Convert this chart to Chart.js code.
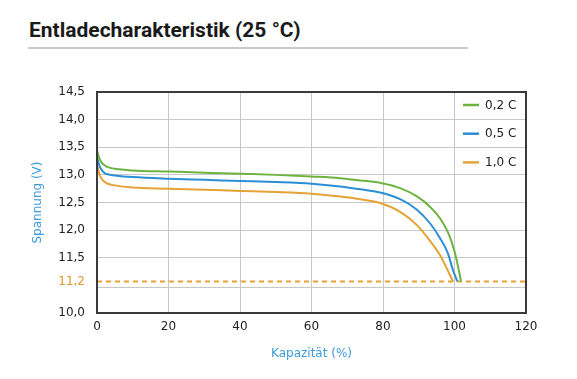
<!DOCTYPE html>
<html>
<head>
<meta charset="utf-8">
<script src="https://cdn.jsdelivr.net/npm/chart.js@4/dist/chart.umd.min.js"></script>
<style>
  html, body { margin: 0; padding: 0; background: #fff; }
  #wrap { position: relative; width: 577px; height: 379px; overflow: hidden; }
  #title { position: absolute; left: 29px; top: 20px; font-family: Roboto, sans-serif; font-weight: 700; font-size: 21px; line-height: 21px; color: #1a1a1a; white-space: nowrap; }
  #rule { position: absolute; left: 28px; top: 47px; width: 440px; height: 2px; background: #c9c9c9; }
  canvas { position: absolute; left: 0; top: 0; }
</style>
</head>
<body>
<div id="wrap">
  <div id="title">Entladecharakteristik (25 °C)</div>
  <div id="rule"></div>
  <canvas id="c" width="577" height="379"></canvas>
</div>
<script>
// ---- data ----
const seriesLabels = ['0,2 C', '0,5 C', '1,0 C'];
const seriesColors = ['#6db33f', '#2b8fd6', '#e5a235'];

const cap02  = [0, 0.5, 1, 2, 3, 5, 10, 20, 30, 40, 50, 60, 68, 73.6, 79.7, 84.8, 89.5, 93.2, 96, 98.3, 99.9, 101, 101.8];
const volt02 = [13.45, 13.33, 13.25, 13.18, 13.14, 13.11, 13.08, 13.06, 13.04, 13.02, 13.00, 12.97, 12.94, 12.90, 12.85, 12.76, 12.61, 12.42, 12.21, 11.94, 11.64, 11.39, 11.2];

const cap05  = [0, 0.5, 1, 2, 3, 5, 10, 20, 30, 40, 50, 60, 68, 73.6, 79.2, 84.8, 89.5, 93.2, 96, 98.1, 99.6, 100.8];
const volt05 = [13.33, 13.20, 13.12, 13.04, 13.01, 12.99, 12.96, 12.93, 12.91, 12.89, 12.87, 12.84, 12.79, 12.74, 12.68, 12.56, 12.37, 12.12, 11.85, 11.59, 11.34, 11.2];

const cap10  = [0, 0.5, 1, 2, 3, 5, 10, 20, 30, 40, 50, 60, 68, 73.6, 79.2, 84.8, 89.5, 93.2, 96, 98.1, 99.6];
const volt10 = [13.20, 13.05, 12.96, 12.88, 12.84, 12.81, 12.77, 12.75, 12.73, 12.71, 12.69, 12.66, 12.61, 12.56, 12.49, 12.33, 12.09, 11.80, 11.54, 11.34, 11.2];

const cutoffVoltage = 11.2;
const cutoffRange = [0, 120];

const xTicks = [0, 20, 40, 60, 80, 100, 120];
const yTicks = [10.0, 11.0, 11.2, 11.5, 12.0, 12.5, 13.0, 13.5, 14.0, 14.5];

// ---- broken (piecewise) voltage scale, as in the original drawing ----
const knotValues = [10.0, 11.0, 11.2, 11.5, 14.5];
const knotFracs  = [0, 0.117, 0.143, 0.25, 1];
function toFrac(v) {
  for (let i = 1; i < knotValues.length; i++) {
    if (v <= knotValues[i] || i === knotValues.length - 1) {
      const a = knotValues[i - 1], b = knotValues[i];
      return knotFracs[i - 1] + (v - a) / (b - a) * (knotFracs[i] - knotFracs[i - 1]);
    }
  }
}
function fromFrac(f) {
  for (let i = 1; i < knotFracs.length; i++) {
    if (f <= knotFracs[i] || i === knotFracs.length - 1) {
      const a = knotFracs[i - 1], b = knotFracs[i];
      return knotValues[i - 1] + (f - a) / (b - a) * (knotValues[i] - knotValues[i - 1]);
    }
  }
}
class BrokenScale extends Chart.LinearScale {
  getPixelForValue(value) {
    if (value === null || value === undefined || isNaN(value)) return NaN;
    return this.getPixelForDecimal(toFrac(value));
  }
  getValueForPixel(pixel) {
    return fromFrac(this.getDecimalForPixel(pixel));
  }
}
BrokenScale.id = 'broken';
BrokenScale.defaults = Chart.LinearScale.defaults;
Chart.register(BrokenScale);

const FONT = '"DejaVu Sans", sans-serif';
const axisBlue = '#3d9bd8';
const orangeTick = '#e0962e';

function mk(xs, ys) { return xs.map((x, i) => ({ x: x, y: ys[i] })); }

const datasets = [
  { label: seriesLabels[0], data: mk(cap02, volt02), borderColor: seriesColors[0] },
  { label: seriesLabels[1], data: mk(cap05, volt05), borderColor: seriesColors[1] },
  { label: seriesLabels[2], data: mk(cap10, volt10), borderColor: seriesColors[2] }
].map(d => Object.assign(d, { borderWidth: 2, pointRadius: 0, fill: false, cubicInterpolationMode: 'monotone' }));

datasets.push({
  label: '', data: cutoffRange.map(x => ({ x: x, y: cutoffVoltage })),
  borderColor: seriesColors[2], borderWidth: 2, borderDash: [5, 4], pointRadius: 0, fill: false, isCutoff: true
});

const frameAndLegend = {
  id: 'frameAndLegend',
  afterDatasetsDraw(chart) {
    const ctx = chart.ctx, a = chart.chartArea;
    ctx.save();
    ctx.strokeStyle = '#3a3a3a';
    ctx.lineWidth = 2;
    ctx.strokeRect(a.left, a.top, a.right - a.left, a.bottom - a.top);
    // legend
    ctx.font = '12px ' + FONT;
    ctx.textBaseline = 'middle';
    ctx.fillStyle = '#222';
    chart.data.datasets.forEach((ds, i) => {
      if (ds.isCutoff) return;
      const y = a.top + 13 + i * 28.7;
      const x0 = a.right - 63;
      ctx.strokeStyle = ds.borderColor;
      ctx.lineWidth = 2.5;
      ctx.beginPath();
      ctx.moveTo(x0, y);
      ctx.lineTo(x0 + 16, y);
      ctx.stroke();
      ctx.fillText(ds.label, x0 + 22, y + 0.5);
    });
    ctx.restore();
  }
};

new Chart(document.getElementById('c'), {
  type: 'line',
  data: { datasets: datasets },
  plugins: [frameAndLegend],
  options: {
    responsive: false,
    animation: false,
    events: [],
    layout: { padding: { left: 0, right: 51, top: 92, bottom: 0 } },
    plugins: { legend: { display: false }, tooltip: { enabled: false }, title: { display: false } },
    scales: {
      x: {
        type: 'linear', min: 0, max: 120,
        afterBuildTicks: s => { s.ticks = xTicks.map(v => ({ value: v })); },
        afterFit: s => { s.height = 66; },
        grid: { color: '#c8c8c8', lineWidth: 1, drawTicks: false },
        border: { display: false },
        ticks: { padding: 7, color: '#222', font: { family: FONT, size: 12 }, maxRotation: 0, callback: v => String(v) },
        title: { display: true, text: 'Kapazität (%)', color: axisBlue, font: { family: FONT, size: 12 }, padding: { top: 0, bottom: 18 } }
      },
      y: {
        type: 'broken', min: 10, max: 14.5,
        afterBuildTicks: s => { s.ticks = yTicks.map(v => ({ value: v })); },
        afterFit: s => { s.width = 97; },
        grid: {
          color: c => (c.tick && Math.abs(c.tick.value - 11.2) < 1e-6) ? 'rgba(0,0,0,0)' : '#c8c8c8',
          lineWidth: 1, drawTicks: false
        },
        border: { display: false },
        ticks: {
          padding: 12,
          font: { family: FONT, size: 12 },
          color: c => (c.tick && Math.abs(c.tick.value - 11.2) < 1e-6) ? orangeTick : '#222',
          callback: v => (Math.abs(v - 11.0) < 1e-6) ? '' : v.toFixed(1).replace('.', ',')
        },
        title: { display: true, text: 'Spannung (V)', color: axisBlue, font: { family: FONT, size: 12 }, padding: { top: 31, bottom: 0 } }
      }
    }
  }
});
</script>
</body>
</html>
